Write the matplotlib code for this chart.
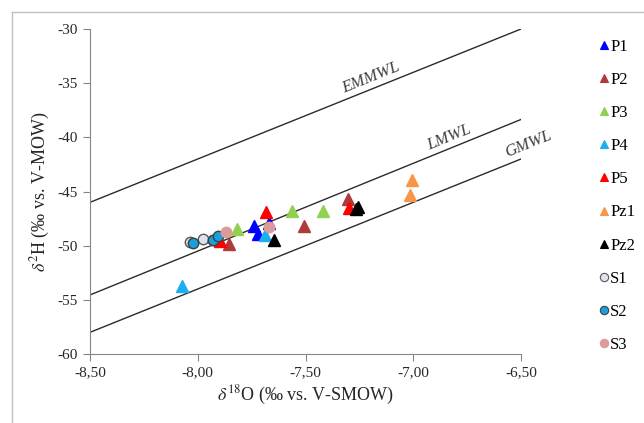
import matplotlib
matplotlib.use("Agg")
import matplotlib.pyplot as plt
from matplotlib.lines import Line2D
from matplotlib.ticker import FuncFormatter, MultipleLocator
import numpy as np

plt.rcParams['font.family'] = ['Liberation Serif', 'DejaVu Serif']
plt.rcParams['mathtext.fontset'] = 'stix'

# sample series: (d18O, d2H)
series_names = ["P1", "P2", "P3", "P4", "P5", "Pz1", "Pz2", "S1", "S2", "S3"]
series_x = [
    [-7.74, -7.67, -7.72],
    [-7.855, -7.507, -7.303],
    [-7.818, -7.563, -7.419],
    [-8.073, -7.688],
    [-7.683, -7.298, -7.897],
    [-7.006, -7.015],
    [-7.646, -7.256, -7.266],
    [-8.036, -7.976, -7.93],
    [-8.022, -7.93, -7.906],
    [-7.869, -7.669],
]
series_y = [
    [-48.2, -47.9, -48.9],
    [-49.85, -48.2, -45.7],
    [-48.5, -46.8, -46.8],
    [-53.7, -49.0],
    [-46.9, -46.5, -49.6],
    [-43.9, -45.3],
    [-49.5, -46.4, -46.6],
    [-49.7, -49.4, -49.5],
    [-49.75, -49.5, -49.1],
    [-48.7, -48.3],
]
face_colors = ["#0000ff", "#b0393a", "#92d050", "#1ab0f0", "#ff0000",
               "#f79646", "#000000", "#dce3ec", "#1a9fdc", "#dc9a98"]
markers = ["^"] * 7 + ["o"] * 3
edge_colors = [None] * 7 + ["#595959", "#404040", "#dc9a98"]

# meteoric water lines: slope, intercept
line_names = ["EMMWL", "LMWL", "GMWL"]
line_slope = [8.0, 8.1, 8.0]
line_icpt = [22.0, 14.3, 10.0]
label_x = [-7.18, -6.82, -6.45]

fig = plt.figure(figsize=(6.44, 4.23), dpi=100)
ax = fig.add_axes([90 / 644, 69 / 423, 431 / 644, 325 / 423])

xs = np.array([-8.5, -6.5])
for name, k, b, lx in zip(line_names, line_slope, line_icpt, label_x):
    ax.plot(xs, k * xs + b, color="#2b2b2b", lw=1.0, zorder=1)
    ax.text(lx, k * lx + b + 0.25, name, rotation=22, ha="center", va="bottom",
            style="italic", fontsize=12, color="#404040",
            rotation_mode="anchor", clip_on=False)

handles = []
for i, name in enumerate(series_names):
    ec = edge_colors[i] if edge_colors[i] else face_colors[i]
    ms = 8 if markers[i] == "^" else 7.5
    ax.plot(series_x[i], series_y[i], linestyle="none", marker=markers[i],
            ms=ms, mfc=face_colors[i], mec=ec, mew=1.0, zorder=3, clip_on=False)
    handles.append(Line2D([], [], linestyle="none", marker=markers[i], ms=6,
                          mfc=face_colors[i], mec=ec, mew=0.8, label=name))

ax.set_xlim(-8.5, -6.5)
ax.set_ylim(-60, -30)
ax.xaxis.set_major_locator(MultipleLocator(0.5))
ax.yaxis.set_major_locator(MultipleLocator(5))
ax.xaxis.set_major_formatter(FuncFormatter(lambda v, p: f"{v:.2f}".replace(".", ",")))
ax.yaxis.set_major_formatter(FuncFormatter(lambda v, p: f"{v:.0f}"))
for s in ["top", "right"]:
    ax.spines[s].set_visible(False)
for s in ["left", "bottom"]:
    ax.spines[s].set_color("#868686")
ax.tick_params(direction="out", length=5, color="#868686", labelsize=11,
               labelcolor="#262626")
ax.set_xlabel(r"$\delta^{18}$O (‰ vs. V-SMOW)", fontsize=13, color="#262626")
ax.set_ylabel(r"$\delta^{2}$H (‰ vs. V-MOW)", fontsize=13, color="#262626")

leg = fig.legend(handles=handles, loc="upper left",
                 bbox_to_anchor=(592 / 644, 1 - 32 / 423), frameon=False,
                 fontsize=12, handlelength=0.6, handletextpad=0.1,
                 labelspacing=1.03, borderaxespad=0)

# outer chart frame
fig.add_artist(Line2D([12 / 644, 12 / 644], [0, 1 - 12 / 423],
                      transform=fig.transFigure, color="#bfbfbf", lw=1))
fig.add_artist(Line2D([12 / 644, 1], [1 - 12 / 423, 1 - 12 / 423],
                      transform=fig.transFigure, color="#bfbfbf", lw=1))

fig.savefig("out.png", dpi=100)
